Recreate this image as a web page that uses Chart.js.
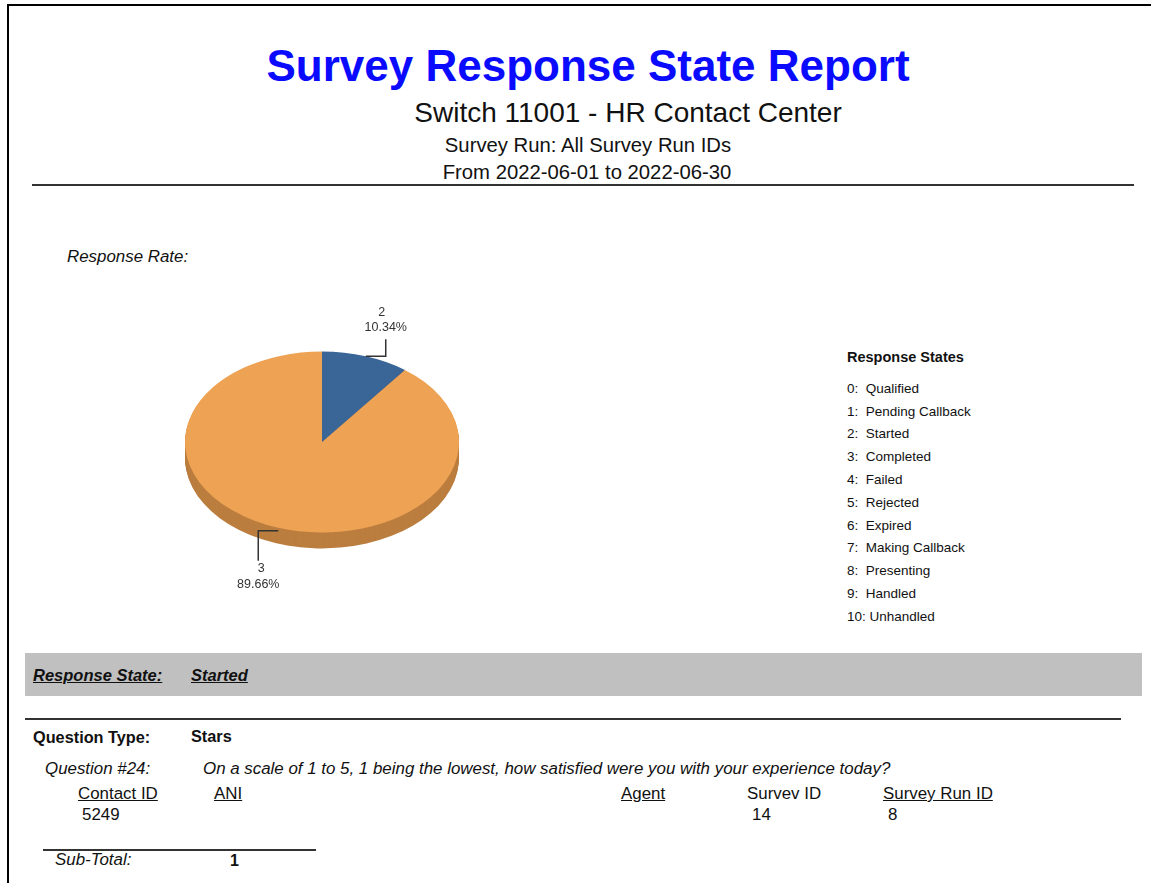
<!DOCTYPE html>
<html>
<head>
<meta charset="utf-8">
<script src="https://cdn.jsdelivr.net/npm/chart.js@4/dist/chart.umd.min.js"></script>
<style>
  html, body { margin: 0; padding: 0; background: #fff; }
  body { width: 1151px; height: 883px; position: relative; overflow: hidden;
         font-family: "Liberation Sans", Arial, sans-serif; color: #111; }
  .t { position: absolute; white-space: pre; line-height: 1; }
  .c { transform: translateX(-50%); }
  .rule { position: absolute; height: 2px; background: #333; }
  .u { text-decoration: underline; }
  .b { font-weight: bold; }
  .i { font-style: italic; }
  .f { font-size: 16.9px; }
  #pie { position: absolute; left: 172px; top: 292px; }
</style>
</head>
<body>
<div style="position:absolute;left:7px;top:4px;width:1144px;height:2px;background:#000"></div>
<div style="position:absolute;left:7px;top:4px;width:2px;height:879px;background:#000"></div>

<div class="t c b" style="left:588px;top:44px;font-size:44px;color:#0a0aff">Survey Response State Report</div>
<div class="t c" style="left:628px;top:99px;font-size:28px">Switch 11001 - HR Contact Center</div>
<div class="t c" style="left:588px;top:135px;font-size:20.3px">Survey Run: All Survey Run IDs</div>
<div class="t c" style="left:587px;top:162px;font-size:20.3px">From 2022-06-01 to 2022-06-30</div>
<div class="rule" style="left:32px;top:184px;width:1102px"></div>

<div class="t i f" style="left:67px;top:249px">Response Rate:</div>

<canvas id="pie" width="300" height="300"></canvas>

<div id="legend"></div>

<div style="position:absolute;left:25px;top:653px;width:1117px;height:43px;background:#c0c0c0"></div>
<div class="t b i u" style="left:33px;top:667px;font-size:16.5px">Response State:</div>
<div class="t b i u" style="left:191px;top:667px;font-size:16.5px">Started</div>
<div class="rule" style="left:25px;top:718px;width:1096px"></div>

<div class="t b" style="left:33px;top:729px;font-size:16.3px">Question Type:</div>
<div class="t b" style="left:191px;top:728px;font-size:16.3px">Stars</div>
<div class="t i f" style="left:45px;top:761px">Question #24:</div>
<div class="t i f" style="left:203px;top:761px">On a scale of 1 to 5, 1 being the lowest, how satisfied were you with your experience today?</div>

<div class="t u f" style="left:78px;top:786px">Contact ID</div>
<div class="t u f" style="left:214px;top:786px">ANI</div>
<div class="t u f" style="left:621px;top:786px">Agent</div>
<div class="t f" style="left:747px;top:786px">Survev ID</div>
<div class="t u f" style="left:883px;top:786px">Survey Run ID</div>
<div class="t f" style="left:82px;top:807px">5249</div>
<div class="t f" style="left:752px;top:807px">14</div>
<div class="t f" style="left:888px;top:807px">8</div>

<div class="rule" style="left:43px;top:849px;width:273px"></div>
<div class="t i f" style="left:55px;top:852px">Sub-Total:</div>
<div class="t b" style="left:230px;top:853px;font-size:16px">1</div>

<script>
// response state names, index = state code
const stateNames = [
  "Qualified", "Pending Callback", "Started", "Completed", "Failed", "Rejected",
  "Expired", "Making Callback", "Presenting", "Handled", "Unhandled",
];
// pie slices: state code and number of responses
const pieStates = [2, 3];
const pieCounts = [3, 26];
const pieColors = ["#3a6597", "#eea254"];
const sideColors = ["#2b4c72", "#bb7e3f"];

const K = 0.66;     // vertical squash of the pie
const DEPTH = 16;   // 3d thickness

// legend on the right
const legend = document.getElementById("legend");
legend.innerHTML =
  `<div class="t b" style="left:847px;top:350px;font-size:14.5px">Response States</div>` +
  stateNames
    .map((n, i) => {
      const pre = i < 10 ? `${i}:  ` : `${i}: `;
      const top = 388.5 + i * 22.8 - 6.75;
      return `<div class="t" style="left:847px;top:${top}px;font-size:13.5px">${pre}${n}</div>`;
    })
    .join("");

function squash(ctx, cx, cy) {
  ctx.translate(cx, cy);
  ctx.scale(1, K);
  ctx.translate(-cx, -cy);
}

const pie3d = {
  id: "pie3d",
  beforeDatasetsDraw(chart) {
    const ctx = chart.ctx;
    const arcs = chart.getDatasetMeta(0).data;
    for (let d = DEPTH; d > 0; d--) {
      arcs.forEach((a, i) => {
        ctx.save();
        ctx.translate(0, d);
        squash(ctx, a.x, a.y);
        ctx.beginPath();
        ctx.moveTo(a.x, a.y);
        ctx.arc(a.x, a.y, a.outerRadius, a.startAngle, a.endAngle);
        ctx.closePath();
        ctx.fillStyle = sideColors[i];
        ctx.fill();
        ctx.restore();
      });
    }
    ctx.save();
    squash(ctx, arcs[0].x, arcs[0].y);
  },
  afterDatasetsDraw(chart) {
    const ctx = chart.ctx;
    ctx.restore();
    const total = pieCounts.reduce((s, v) => s + v, 0);
    const arcs = chart.getDatasetMeta(0).data;
    arcs.forEach((a, i) => {
      const mid = (a.startAngle + a.endAngle) / 2;
      const ex = a.x + a.outerRadius * Math.cos(mid);
      const ey = a.y + a.outerRadius * K * Math.sin(mid);
      const sx = ex >= a.x ? 1 : -1;
      const down = ey > a.y;
      const hx = ex + sx * 20;
      const ly = down ? ey + 3 : ey;
      const vy = down ? ey + 33 : ey - 17;
      ctx.save();
      ctx.strokeStyle = "#333";
      ctx.lineWidth = 1.5;
      ctx.beginPath();
      ctx.moveTo(ex, ly);
      ctx.lineTo(hx, ly);
      ctx.lineTo(hx, vy);
      ctx.stroke();
      ctx.fillStyle = "#333";
      ctx.font = '12.5px "Liberation Sans", Arial, sans-serif';
      ctx.textAlign = "center";
      ctx.textBaseline = "middle";
      const pct = ((pieCounts[i] / total) * 100).toFixed(2) + "%";
      if (down) {
        ctx.fillText(String(pieStates[i]), hx + 3, vy + 8);
        ctx.fillText(pct, hx, vy + 24);
      } else {
        ctx.fillText(String(pieStates[i]), hx - 4, vy - 27);
        ctx.fillText(pct, hx, vy - 12);
      }
      ctx.restore();
    });
  },
};

new Chart(document.getElementById("pie"), {
  type: "pie",
  data: {
    labels: pieStates.map((s) => `${s}: ${stateNames[s]}`),
    datasets: [
      {
        data: pieCounts,
        backgroundColor: pieColors,
        borderWidth: 0,
      },
    ],
  },
  options: {
    responsive: false,
    animation: false,
    layout: { padding: 13 },
    plugins: { legend: { display: false }, tooltip: { enabled: false } },
  },
  plugins: [pie3d],
});
</script>
</body>
</html>
